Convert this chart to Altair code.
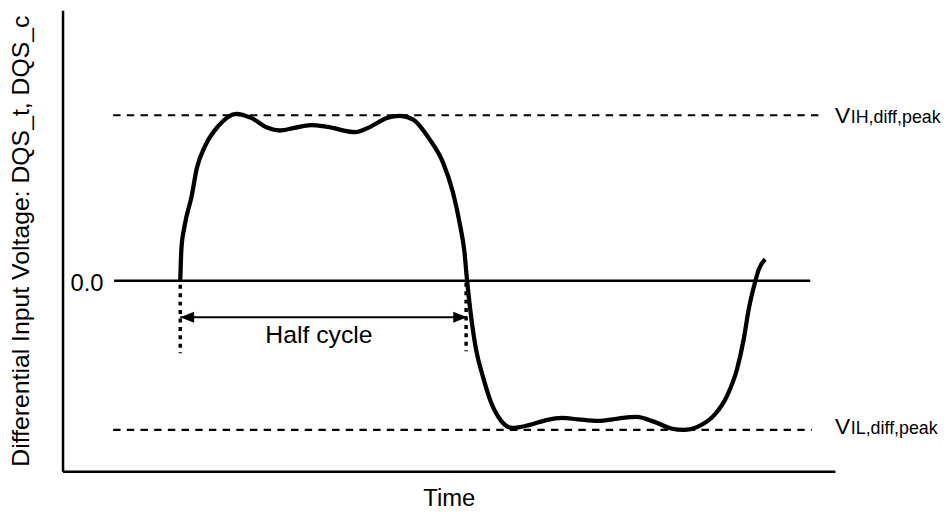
import altair as alt
import pandas as pd

FONT = "Liberation Sans, Arial, Helvetica, sans-serif"

# ---- data (time: arbitrary units 0..100, voltage: V_IH,diff,peak = 1.0) ----
wave_t = [15.24, 15.40, 15.80, 16.73, 17.37, 18.45, 20.15, 22.50, 24.43, 26.57,
          28.07, 30.00, 32.13, 34.27, 37.91, 39.83, 41.98, 43.68, 45.40, 47.53,
          49.26, 50.54, 51.39, 52.03, 52.38,
          52.89, 53.53, 54.39, 55.46, 56.74, 58.24, 60.37, 62.52, 64.66, 66.79,
          69.36, 71.93, 74.29, 76.64, 78.78, 80.49, 82.19, 84.34, 86.05, 87.33,
          88.19, 88.83, 89.69, 90.12, 90.97]
wave_v = [0.0, 0.200, 0.330, 0.515, 0.677, 0.814, 0.934, 1.009, 0.984, 0.924,
          0.908, 0.924, 0.940, 0.930, 0.898, 0.930, 0.984, 0.997, 0.974, 0.854,
          0.714, 0.535, 0.355, 0.175, 0.0,
          -0.214, -0.413, -0.573, -0.732, -0.843, -0.889, -0.872, -0.843, -0.828, -0.837,
          -0.846, -0.832, -0.822, -0.852, -0.892, -0.901, -0.882, -0.813, -0.693, -0.533,
          -0.353, -0.174, -0.003, 0.066, 0.130]

level_names = ["IH,diff,peak", "IL,diff,peak"]
level_v = [1.0, -0.9]
level_t0 = [6.55, 6.55]
level_t1 = [98.0, 97.0]
label_t = [100.0, 100.0]

zero_v = 0.0
zero_t0 = 6.68
zero_t1 = 96.8
zero_label = "0.0"
zero_label_t = 5.3

half_t = [15.24, 52.25]          # dotted markers
half_v0 = [-0.024, -0.012]
half_v1 = [-0.437, -0.425]
arrow_t0, arrow_t1, arrow_v = 15.24, 52.38, -0.22
half_label = "Half cycle"
half_label_t, half_label_v = 33.2, -0.373

x_title = "Time"
y_title = "Differential Input Voltage: DQS_t, DQS_c"

# ---- tables ----
wave = pd.DataFrame({"t": wave_t, "v": wave_v})
levels = pd.DataFrame({"name": level_names, "v": level_v, "t0": level_t0,
                       "t1": level_t1, "tl": label_t, "V": ["V", "V"]})
zero = pd.DataFrame({"t0": [zero_t0], "t1": [zero_t1], "v": [zero_v],
                     "tl": [zero_label_t], "label": [zero_label]})
dots = pd.DataFrame({"t": half_t, "v0": half_v0, "v1": half_v1})
arrow = pd.DataFrame({"t0": [arrow_t0], "t1": [arrow_t1], "v": [arrow_v]})
heads = pd.DataFrame({"t": [arrow_t0, arrow_t1], "v": [arrow_v, arrow_v],
                      "dir": ["left", "right"]})
half_txt = pd.DataFrame({"t": [half_label_t], "v": [half_label_v], "label": [half_label]})

xs = alt.Scale(domain=[0, 100], nice=False, zero=False)
ys = alt.Scale(domain=[-1.15, 1.635], nice=False, zero=False)
xa = alt.Axis(title=x_title, titleFontSize=24, titlePadding=35,
              titleBaseline="alphabetic")
ya = alt.Axis(title=y_title, titleFontSize=25, titlePadding=34,
              titleBaseline="alphabetic")


def X(f):
    return alt.X(f, type="quantitative", scale=xs, axis=xa)


def Y(f):
    return alt.Y(f, type="quantitative", scale=ys, axis=ya)


level_lines = alt.Chart(levels).mark_rule(
    color="black", strokeWidth=2.2, strokeDash=[7.5, 6.3]
).encode(x=X("t0"), x2="t1", y=Y("v"))

zero_line = alt.Chart(zero).mark_rule(color="black", strokeWidth=2.5).encode(
    x=X("t0"), x2="t1", y=Y("v"))

zero_text = alt.Chart(zero).mark_text(
    font=FONT, fontSize=24, align="right", baseline="alphabetic", dy=10, color="black"
).encode(x=X("tl"), y=Y("v"), text="label:N")

dot_lines = alt.Chart(dots).mark_rule(
    color="black", strokeWidth=3.5, strokeDash=[4, 4.5]
).encode(x=X("t"), y=Y("v0"), y2="v1")

arrow_line = alt.Chart(arrow).mark_rule(color="black", strokeWidth=2.2).encode(
    x=X("t0"), x2="t1", y=Y("v"))

arrow_heads = alt.Chart(heads).mark_point(filled=True, opacity=1, size=196, color="black").encode(
    x=X("t"), y=Y("v"),
    shape=alt.Shape("dir:N", legend=None,
                    scale=alt.Scale(domain=["left", "right"],
                                    range=["M0,0L2,-0.8L2,0.8Z", "M0,0L-2,-0.8L-2,0.8Z"])))

half_text = alt.Chart(half_txt).mark_text(
    font=FONT, fontSize=25, align="center", baseline="alphabetic", color="black"
).encode(x=X("t"), y=Y("v"), text="label:N")

wave_line = alt.Chart(wave).mark_line(
    color="black", strokeWidth=4.3, interpolate="monotone"
).encode(x=X("t"), y=Y("v"))

vih = levels.iloc[[0]]
vil = levels.iloc[[1]]


def level_label(df, dy):
    big = alt.Chart(df).mark_text(
        font=FONT, fontSize=23, align="left", baseline="alphabetic", dy=dy, color="black"
    ).encode(x=X("tl"), y=Y("v"), text="V:N")
    small = alt.Chart(df).mark_text(
        font=FONT, fontSize=18, align="left", baseline="alphabetic", dy=dy, dx=16, color="black"
    ).encode(x=X("tl"), y=Y("v"), text="name:N")
    return big + small


chart = alt.layer(
    level_lines, zero_line, zero_text, dot_lines, arrow_line, arrow_heads,
    half_text, wave_line, level_label(vih, 8), level_label(vil, 4.5)
).properties(
    width=779, height=465,
    padding={"left": 55, "top": 0, "right": 110, "bottom": 40},
    autosize=alt.AutoSizeParams(type="none"),
    background="white",
).configure_view(stroke=None).configure_axis(
    domainColor="black", domainWidth=2.5, ticks=False, labels=False, grid=False,
    titleFont=FONT, titleFontWeight="normal", titleColor="black"
)

chart.save("out.html", embed_options={"renderer": "svg", "actions": False})
